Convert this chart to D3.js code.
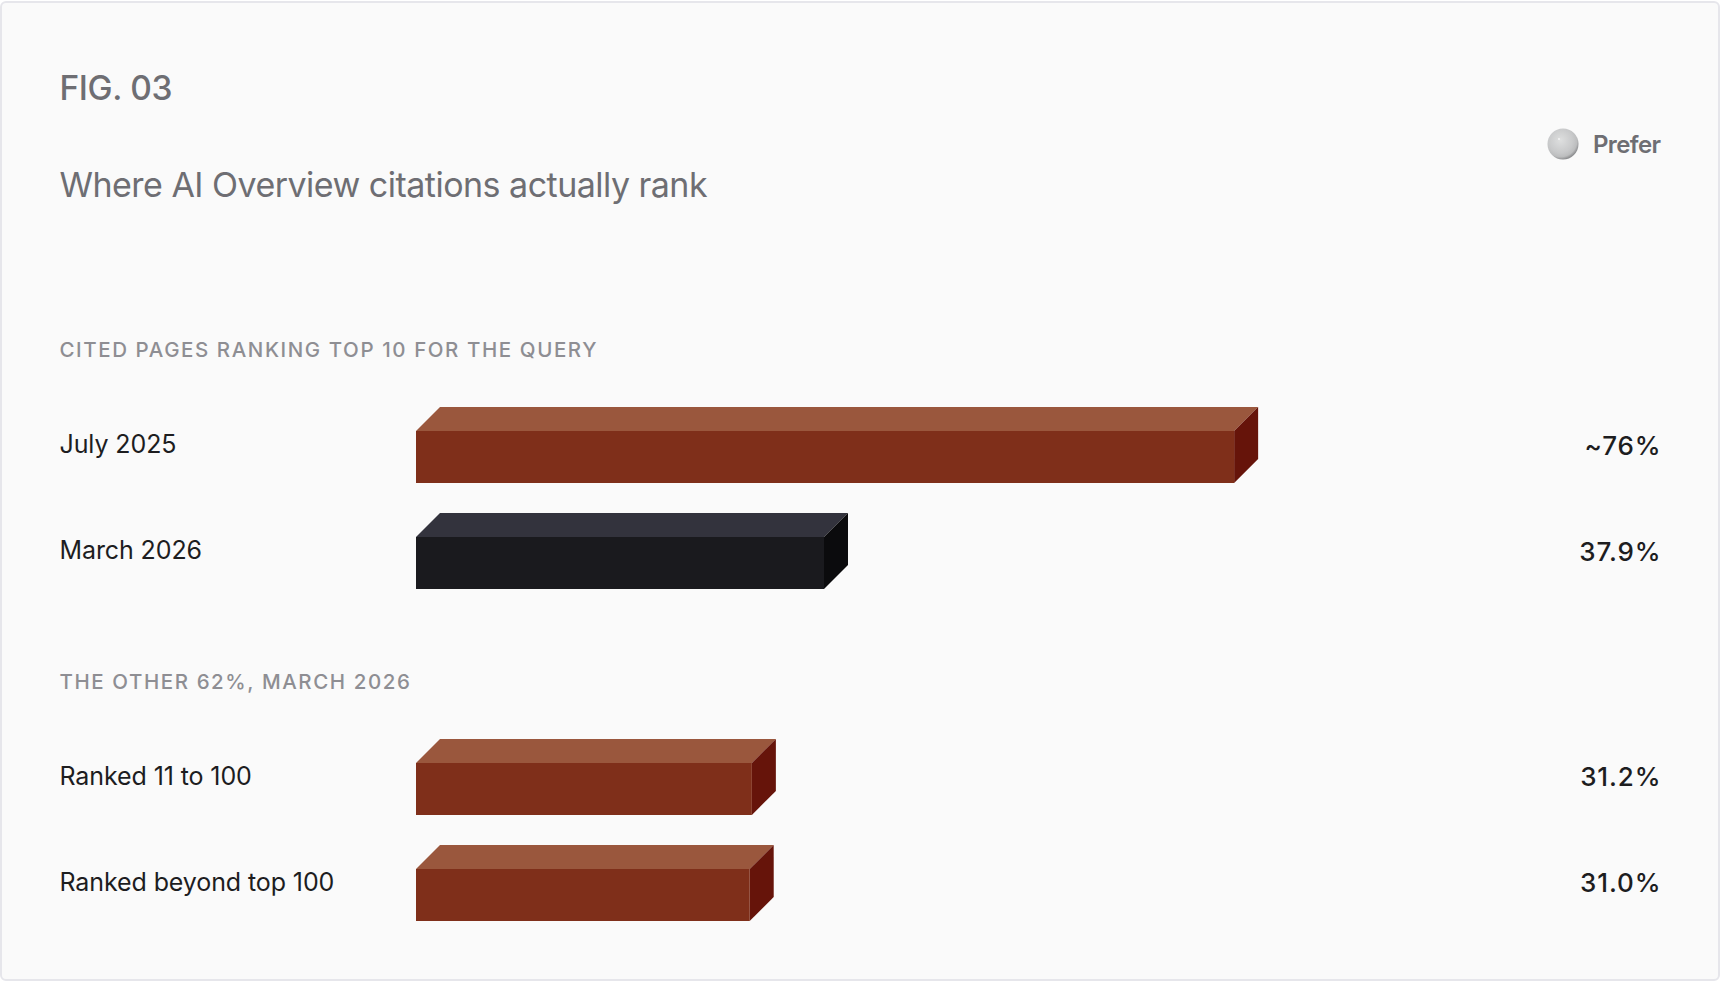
<!DOCTYPE html>
<html>
<head>
<meta charset="utf-8">
<title>FIG. 03</title>
<script src="https://cdn.jsdelivr.net/npm/d3@7"></script>
<style>
  html, body { margin: 0; padding: 0; background: #fff; }
  svg { display: block; font-family: Inter, "Noto Sans", sans-serif; }
</style>
</head>
<body>
<div id="chart"></div>
<script>
// chart values
var figLabel = "FIG. 03";
var chartTitle = "Where AI Overview citations actually rank";
var legendLabel = "Prefer";

var sectionTitles = ["CITED PAGES RANKING TOP 10 FOR THE QUERY", "THE OTHER 62%, MARCH 2026"];
var topCategories = ["July 2025", "March 2026"];
var topValues = [76, 37.9];
var topLabels = ["~76%", "37.9%"];
var topTones = ["rust", "dark"];
var otherCategories = ["Ranked 11 to 100", "Ranked beyond top 100"];
var otherValues = [31.2, 31.0];
var otherLabels = ["31.2%", "31.0%"];
var otherTones = ["rust", "rust"];

var w = 1736;
var h = 996;
var depth = 24;
var frontH = 52;
var left = 59.5;
var barLeft = 416;
var right = 1660.5;

var faces = {
  rust: { front: "#7f2f1a", top: "#9a573d", side: "#66140a" },
  dark: { front: "#1a1a1e", top: "#33333d", side: "#0b0b0d" }
};

var svg = d3.select("#chart").append("svg")
            .attr("width", w)
            .attr("height", h);

var defs = svg.append("defs");
var ball = defs.append("radialGradient")
               .attr("id", "ball")
               .attr("cx", "42%").attr("cy", "38%").attr("r", "62%");
ball.append("stop").attr("offset", "0%").attr("stop-color", "#dedfdf");
ball.append("stop").attr("offset", "65%").attr("stop-color", "#c8c9ca");
ball.append("stop").attr("offset", "86%").attr("stop-color", "#bcbdbe");
ball.append("stop").attr("offset", "100%").attr("stop-color", "#8f9092");

// card
svg.append("rect")
   .attr("x", 1).attr("y", 2)
   .attr("width", 1718).attr("height", 978)
   .attr("rx", 5)
   .attr("fill", "#fafafa")
   .attr("stroke", "#e6e6eb")
   .attr("stroke-width", 2);

function addText(x, y, txt, size, weight, color, anchor, spacing) {
  return svg.append("text")
            .attr("x", x).attr("y", y)
            .attr("font-size", size)
            .attr("font-weight", weight)
            .attr("fill", color)
            .attr("text-anchor", anchor || "start")
            .attr("letter-spacing", spacing || 0)
            .text(txt);
}

addText(left, 99.5, figLabel, 33.5, 500, "#6e6e73", "start", -0.4);
addText(left, 197, chartTitle, 34, 400, "#6e6e73", "start", -0.52);

// legend
svg.append("circle")
   .attr("cx", 1563).attr("cy", 144).attr("r", 15.5)
   .attr("fill", "url(#ball)");
svg.append("circle")
   .attr("cx", 1559).attr("cy", 139).attr("r", 1)
   .attr("fill", "#f4f4f4");
addText(right, 153, legendLabel, 24, 600, "#6e6e73", "end", -0.6);

var x = d3.scaleLinear().domain([0, 100]).range([barLeft, barLeft + 1076.5]);

function drawSection(title, titleY, rowTop, categories, values, labels, tones, valOffset) {
  addText(left, titleY, title, 20.5, 500, "#8e8e93", "start", 1.58);

  var y = d3.scaleBand()
            .domain(categories)
            .range([rowTop, rowTop + 76 + 106 * (categories.length - 1)])
            .paddingInner(30 / 106);

  var rows = categories.map(function(c, i) {
    return { cat: c, val: values[i], label: labels[i], tone: tones[i] };
  });

  var g = svg.append("g");
  var bars = g.selectAll("g.bar").data(rows).enter().append("g").attr("class", "bar");

  // top face
  bars.append("path")
      .attr("fill", function(d) { return faces[d.tone].top; })
      .attr("d", function(d) {
        var t = y(d.cat);
        return d3.line()([[x(0), t + depth], [x(0) + depth, t], [x(d.val) + depth, t], [x(d.val), t + depth]]) + "Z";
      });
  // side face
  bars.append("path")
      .attr("fill", function(d) { return faces[d.tone].side; })
      .attr("d", function(d) {
        var t = y(d.cat);
        return d3.line()([[x(d.val), t + depth], [x(d.val) + depth, t], [x(d.val) + depth, t + frontH], [x(d.val), t + depth + frontH]]) + "Z";
      });
  // front face
  bars.append("rect")
      .attr("fill", function(d) { return faces[d.tone].front; })
      .attr("x", x(0))
      .attr("y", function(d) { return y(d.cat) + depth; })
      .attr("width", function(d) { return x(d.val) - x(0); })
      .attr("height", frontH);

  g.selectAll("text.cat").data(rows).enter().append("text")
      .attr("class", "cat")
      .attr("x", left)
      .attr("y", function(d) { return y(d.cat) + 46; })
      .attr("font-size", 25)
      .attr("letter-spacing", -0.1)
      .attr("fill", "#1d1d1f")
      .text(function(d) { return d.cat; });

  g.selectAll("text.val").data(rows).enter().append("text")
      .attr("class", "val")
      .attr("x", right + 1)
      .attr("y", function(d) { return y(d.cat) + valOffset; })
      .attr("font-size", 26)
      .attr("font-weight", 500)
      .attr("letter-spacing", 0.9)
      .attr("text-anchor", "end")
      .attr("fill", "#1d1d1f")
      .text(function(d) { return d.label; });
}

drawSection(sectionTitles[0], 357, 407, topCategories, topValues, topLabels, topTones, 48);
drawSection(sectionTitles[1], 689, 739, otherCategories, otherValues, otherLabels, otherTones, 46.5);
</script>
</body>
</html>
